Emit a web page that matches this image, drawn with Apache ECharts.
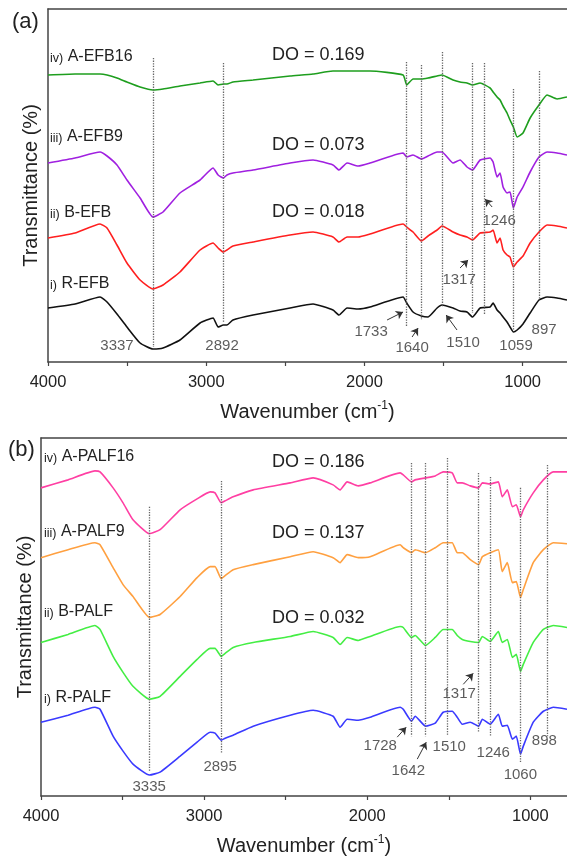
<!DOCTYPE html>
<html>
<head>
    <meta charset="UTF-8">
    <title>FTIR EFB / PALF</title>
    <script src="https://cdn.jsdelivr.net/npm/echarts@6/dist/echarts.min.js"></script>
    <style>
        body { margin: 0; background: #fff; }
        #chart { width: 567px; height: 857px; }
    </style>
</head>
<body>
<div id="chart"></div>
<script>
// ---- panel (a): EFB ----
const waveA = [4000,3829,3671,3627,3564,3501,3418,3337,3273,3166,3039,2957,2925,2892,2869,2831,2704,2470,2325,2199,
    2161,2110,2040,1965,1756,1733,1693,1640,1598,1541,1510,1440,1396,1352,1317,1269,1206,1187,1162,1143,
    1124,1099,1080,1059,1035,998,953,897,846,783,720];
const efb16 = [287,288,288,287,284,280,275,272,273,276,279,281,277,278,278,280,282,286,288,291,
    291,291,291,291,287,277,283,283,284,286,287,282,280,279,277,279,274,270,265,262,
    256,249,242,235,225,229,244,257,267,263,265];
const efb9 = [199,204,210,206,197,182,164,145,150,169,182,194,187,184,187,189,192,199,202,197,
    192,199,196,199,209,205,207,203,206,210,210,199,202,195,192,202,204,200,185,189,
    175,169,170,154,165,175,190,205,210,209,207];
const efbB = [124,129,138,134,117,99,82,73,77,90,112,119,114,110,112,116,120,127,130,125,
    120,125,125,128,138,135,130,121,126,132,136,130,127,125,122,129,130,132,119,124,
    112,107,105,95,100,106,119,130,137,136,134];
const efbR = [54,58,65,60,48,35,19,13,14,22,39,44,35,37,37,42,47,54,58,52,
    47,54,53,55,65,59,50,46,45,54,57,54,51,50,45,54,55,59,52,49,
    45,40,35,30,32,38,49,62,65,64,62];
const peaksA = [3337,2892,1733,1640,1510,1317,1246,1059,897];
const peakTopA = [304,299,300,297,310,299,299,273,291];
const peakBotA = [15,39,35,42,55,49,47,32,62];
// label: [wavenumber, level, text]
const notesA = [[3564,16,'3337'],[2900,16,'2892'],[1958,30,'1733'],[1699,14,'1640'],[1377,19,'1510'],
    [1042,16,'1059'],[865,32,'897'],[1402,82,'1317'],[1149,141,'1246']];
const arrowsA = [[1857,42,1756,50],[1699,25,1661,34],[1415,32,1484,47],[1396,94,1345,102],[1193,155,1238,163]];

// ---- panel (b): PALF ----
const waveB = [4000,3834,3669,3638,3558,3497,3436,3335,3270,3147,3043,2963,2933,2895,2871,2822,2699,2472,2331,2209,
    2166,2123,2055,1982,1798,1779,1728,1706,1642,1583,1534,1479,1448,1417,1368,1317,1294,1246,1196,1172,
    1141,1110,1086,1060,1043,982,920,859,775];
const palf16 = [309,317,326,325,309,294,277,263,267,287,298,305,304,294,296,300,307,314,319,312,
    307,315,311,314,324,322,315,317,319,321,325,324,314,314,311,309,314,313,315,300,
    307,290,292,280,287,304,317,325,325];
const palf9 = [239,247,254,252,229,212,200,179,182,200,219,230,230,218,221,227,232,240,245,239,
    234,242,239,240,252,249,244,247,244,249,254,254,244,244,237,232,240,244,247,225,
    234,214,215,199,207,234,247,254,253];
const palfB = [154,162,171,167,140,124,110,97,100,120,137,148,148,140,143,149,154,160,165,159,
    152,159,156,160,170,169,159,161,151,159,167,167,161,157,155,154,160,155,165,154,
    157,139,142,125,132,154,167,171,169];
const palfR = [74,81,89,87,60,45,32,21,24,40,54,64,63,56,58,61,70,81,86,80,
    69,77,76,79,89,87,75,80,70,73,84,85,79,72,74,70,77,72,82,70,
    71,57,60,42,50,74,85,89,87];
const peaksB = [3335,2895,1728,1642,1510,1317,1246,1060,898];
const peakTopB = [290,316,334,334,339,324,320,309,332];
const peakBotB = [24,42,60,60,60,64,60,34,60];
const notesB = [[3337,9,'3335'],[2902,29,'2895'],[1920,50,'1728'],[1748,25,'1642'],[1497,49,'1510'],
    [1227,43,'1246'],[1061,21,'1060'],[914,55,'898'],[1436,102,'1317']];
const arrowsB = [[1816,59,1761,69],[1693,37,1638,54],[1411,112,1350,123]];

const tickVals = [4000,3500,3000,2500,2000,1500,1000];
const labelVals = [4000,3000,2000,1000];

const pair = (w, v) => w.map((x, i) => [x, v[i]]);
const font = 'Arial, "Liberation Sans", sans-serif';

function xAxes(gi, min) {
    return [{
        gridIndex: gi, type: 'value', inverse: true, min: min, max: 4000,
        name: 'Wavenumber (cm{sup|-1})', nameLocation: 'middle', nameGap: 38,
        nameTextStyle: { fontSize: 20, color: '#222', fontFamily: font,
            rich: { sup: { fontSize: 12, verticalAlign: 'top', padding: [0, 0, 12, 0], color: '#222' } } },
        axisLine: { lineStyle: { color: '#444', width: 1.5 } },
        axisTick: { customValues: tickVals, length: 4, lineStyle: { color: '#444', width: 1.2 } },
        axisLabel: { customValues: labelVals, formatter: v => String(v), fontSize: 16.5, color: '#222', margin: 12, fontFamily: font },
        splitLine: { show: false }
    }, {
        gridIndex: gi, type: 'value', inverse: true, min: min, max: 4000, position: 'top',
        axisLine: { lineStyle: { color: '#444', width: 1.5 } },
        axisTick: { show: false }, axisLabel: { show: false }, splitLine: { show: false }
    }];
}

function yAxis(gi, max, gap) {
    return {
        gridIndex: gi, type: 'value', min: 0, max: max,
        name: 'Transmittance (%)', nameLocation: 'middle', nameGap: gap,
        nameTextStyle: { fontSize: 20, color: '#222', fontFamily: font },
        axisLine: { show: true, lineStyle: { color: '#444', width: 1.5 } },
        axisTick: { show: false }, axisLabel: { show: false }, splitLine: { show: false }
    };
}

function curve(gi, wave, vals, color, marks) {
    const s = {
        type: 'line', xAxisIndex: gi * 2, yAxisIndex: gi, data: pair(wave, vals),
        showSymbol: false, silent: true, smooth: 0.15,
        lineStyle: { color: color, width: 1.6 }, itemStyle: { color: color }
    };
    if (marks) {
        s.markLine = {
            silent: true, symbol: ['none', 'none'], label: { show: false },
            lineStyle: { type: 'dotted', color: '#666', width: 1.3 },
            data: marks[0].map((p, i) => [{ coord: [p, marks[1][i]] }, { coord: [p, marks[2][i]] }])
        };
    }
    return s;
}

function notes(gi, list, arrows) {
    return {
        type: 'scatter', xAxisIndex: gi * 2, yAxisIndex: gi, symbolSize: 0, silent: true,
        data: list,
        label: { show: true, position: 'inside', formatter: p => p.value[2], fontSize: 15, color: '#333', fontFamily: font },
        markLine: {
            silent: true, symbol: ['none', 'arrow'], symbolSize: 7, label: { show: false },
            lineStyle: { type: 'solid', color: '#333', width: 1 },
            data: arrows.map(a => [{ coord: [a[0], a[1]] }, { coord: [a[2], a[3]] }])
        }
    };
}

function txt(x, y, text, size, rich) {
    return { type: 'text', x: x, y: y, silent: true,
        style: { text: text, fontSize: size, fontFamily: font, fill: '#222', verticalAlign: 'middle', rich: rich || {} } };
}
const small = { s: { fontSize: 12.5, fontFamily: font, fill: '#222', padding: [3, 0, 0, 0] } };

const chart = echarts.init(document.getElementById('chart'));
chart.setOption({
    animation: false,
    textStyle: { fontFamily: font },
    grid: [
        { left: 48, top: 9, right: 0, height: 353 },
        { left: 41, top: 438, right: 0, height: 359 }
    ],
    xAxis: [...xAxes(0, 720), ...xAxes(1, 775)],
    yAxis: [yAxis(0, 353, 7), yAxis(1, 359, 6)],
    series: [
        curve(0, waveA, efb16, '#1e9e1e'),
        curve(0, waveA, efb9, '#a020e0'),
        curve(0, waveA, efbB, '#ff1f1f'),
        curve(0, waveA, efbR, '#111111', [peaksA, peakTopA, peakBotA]),
        notes(0, notesA, arrowsA),
        curve(1, waveB, palf16, '#ff3fa3'),
        curve(1, waveB, palf9, '#ffa040'),
        curve(1, waveB, palfB, '#44ee44'),
        curve(1, waveB, palfR, '#3a3aff', [peaksB, peakTopB, peakBotB]),
        notes(1, notesB, arrowsB)
    ],
    graphic: [
        txt(12, 22, '(a)', 22),
        txt(8, 450, '(b)', 22),
        txt(50, 57, '{s|iv)} A-EFB16', 16, small),
        txt(50, 137, '{s|iii)} A-EFB9', 16, small),
        txt(50, 213, '{s|ii)} B-EFB', 16, small),
        txt(50, 284, '{s|i)} R-EFB', 16, small),
        txt(44, 457, '{s|iv)} A-PALF16', 16, small),
        txt(44, 532, '{s|iii)} A-PALF9', 16, small),
        txt(44, 612, '{s|ii)} B-PALF', 16, small),
        txt(44, 698, '{s|i)} R-PALF', 16, small),
        txt(272, 55, 'DO = 0.169', 18),
        txt(272, 145, 'DO = 0.073', 18),
        txt(272, 212, 'DO = 0.018', 18),
        txt(272, 462, 'DO = 0.186', 18),
        txt(272, 533, 'DO = 0.137', 18),
        txt(272, 618, 'DO = 0.032', 18)
    ]
});
</script>
</body>
</html>
